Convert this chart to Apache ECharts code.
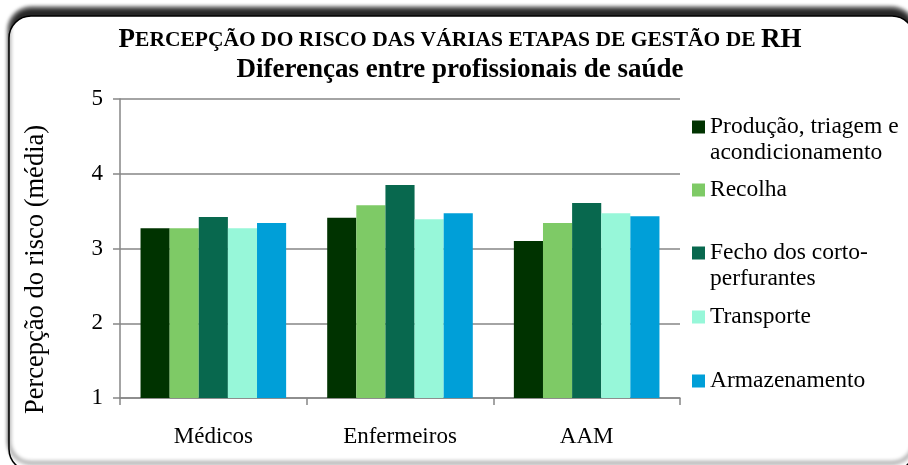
<!DOCTYPE html>
<html>
<head>
<meta charset="utf-8">
<script src="https://cdn.jsdelivr.net/npm/echarts@6/dist/echarts.min.js"></script>
<style>
  html, body { margin: 0; padding: 0; background: #fff; }
  #chart { width: 908px; height: 465px; }
</style>
</head>
<body>
<div id="chart"></div>
<script>
const categories = ['Médicos', 'Enfermeiros', 'AAM']
const seriesNames = [
  'Produção, triagem e acondicionamento',
  'Recolha',
  'Fecho dos corto-perfurantes',
  'Transporte',
  'Armazenamento'
]
const producao = [3.27, 3.41, 3.10]
const recolha = [3.27, 3.58, 3.34]
const fecho = [3.42, 3.85, 3.61]
const transporte = [3.27, 3.39, 3.47]
const armazenamento = [3.34, 3.47, 3.43]
const yTicks = [1, 2, 3, 4, 5]

const values = [producao, recolha, fecho, transporte, armazenamento]
const colors = ['#003300', '#7ECA66', '#08684E', '#97F7D9', '#009FD8']
// leading blank line keeps the icon beside the first text line
const legendLabels = [
  '\nProdução, triagem e\nacondicionamento',
  'Recolha',
  '\nFecho dos corto-\nperfurantes',
  'Transporte',
  'Armazenamento'
]
const legendCenters = [127, 190, 253, 317, 381]

const serif = '"Liberation Serif", "DejaVu Serif", serif'
const chart = echarts.init(document.getElementById('chart'), null, { renderer: 'canvas' })

const legends = seriesNames.map((name, i) => {
  const lines = legendLabels[i].split('\n').length
  return {
    data: [name],
    orient: 'vertical',
    left: 692,
    top: legendCenters[i] - lines * 13,
    padding: 0,
    itemWidth: 13,
    itemHeight: 13,
    icon: 'rect',
    selectedMode: false,
    formatter: () => legendLabels[i],
    textStyle: {
      fontFamily: serif,
      fontSize: 23.5,
      lineHeight: 26,
      color: '#000'
    }
  }
})

const option = {
  animation: false,
  title: {
    text: '{big|P}{small|ERCEPÇÃO DO RISCO DAS VÁRIAS ETAPAS DE GESTÃO DE }{big|RH}\n{big|Diferenças entre profissionais de saúde}',
    left: 460,
    textAlign: 'center',
    top: 25,
    padding: 0,
    textStyle: {
      fontFamily: serif,
      fontWeight: 'bold',
      color: '#000',
      rich: {
        big: { fontFamily: serif, fontWeight: 'bold', fontSize: 27, lineHeight: 30 },
        small: { fontFamily: serif, fontWeight: 'bold', fontSize: 21.5, lineHeight: 30 }
      }
    }
  },
  graphic: [{
    type: 'rect',
    z: -10,
    silent: true,
    shape: { x: 9, y: 16, width: 905, height: 455, r: 22 },
    style: {
      fill: '#fff',
      stroke: '#000',
      lineWidth: 1.5,
      shadowBlur: 4,
      shadowOffsetY: -8,
      shadowColor: 'rgba(0,0,0,0.85)'
    }
  }],
  legend: legends,
  grid: { left: 120, right: 228, top: 99, bottom: 67 },
  xAxis: {
    type: 'category',
    data: categories,
    axisLine: { lineStyle: { color: '#868686', width: 1.5 } },
    axisTick: { show: true, length: 7, lineStyle: { color: '#868686', width: 1.5 } },
    axisLabel: { fontFamily: serif, fontSize: 23, color: '#000', margin: 27 }
  },
  yAxis: {
    type: 'value',
    min: yTicks[0],
    max: yTicks[yTicks.length - 1],
    interval: 1,
    name: 'Percepção do risco (média)',
    nameLocation: 'middle',
    nameGap: 70,
    nameTextStyle: { fontFamily: serif, fontSize: 26.5, color: '#000', padding: [0, 42, 0, 0] },
    axisLine: { show: true, lineStyle: { color: '#868686', width: 1.5 } },
    axisTick: { show: true, length: 7, lineStyle: { color: '#868686', width: 1.5 } },
    splitLine: { lineStyle: { color: '#868686', width: 1.5 } },
    axisLabel: { fontFamily: serif, fontSize: 23, color: '#000', margin: 17 }
  },
  series: seriesNames.map((name, i) => ({
    name,
    type: 'bar',
    data: values[i],
    barGap: '0%',
    barCategoryGap: '22%',
    itemStyle: { color: colors[i] }
  }))
}

chart.setOption(option)
</script>
</body>
</html>
